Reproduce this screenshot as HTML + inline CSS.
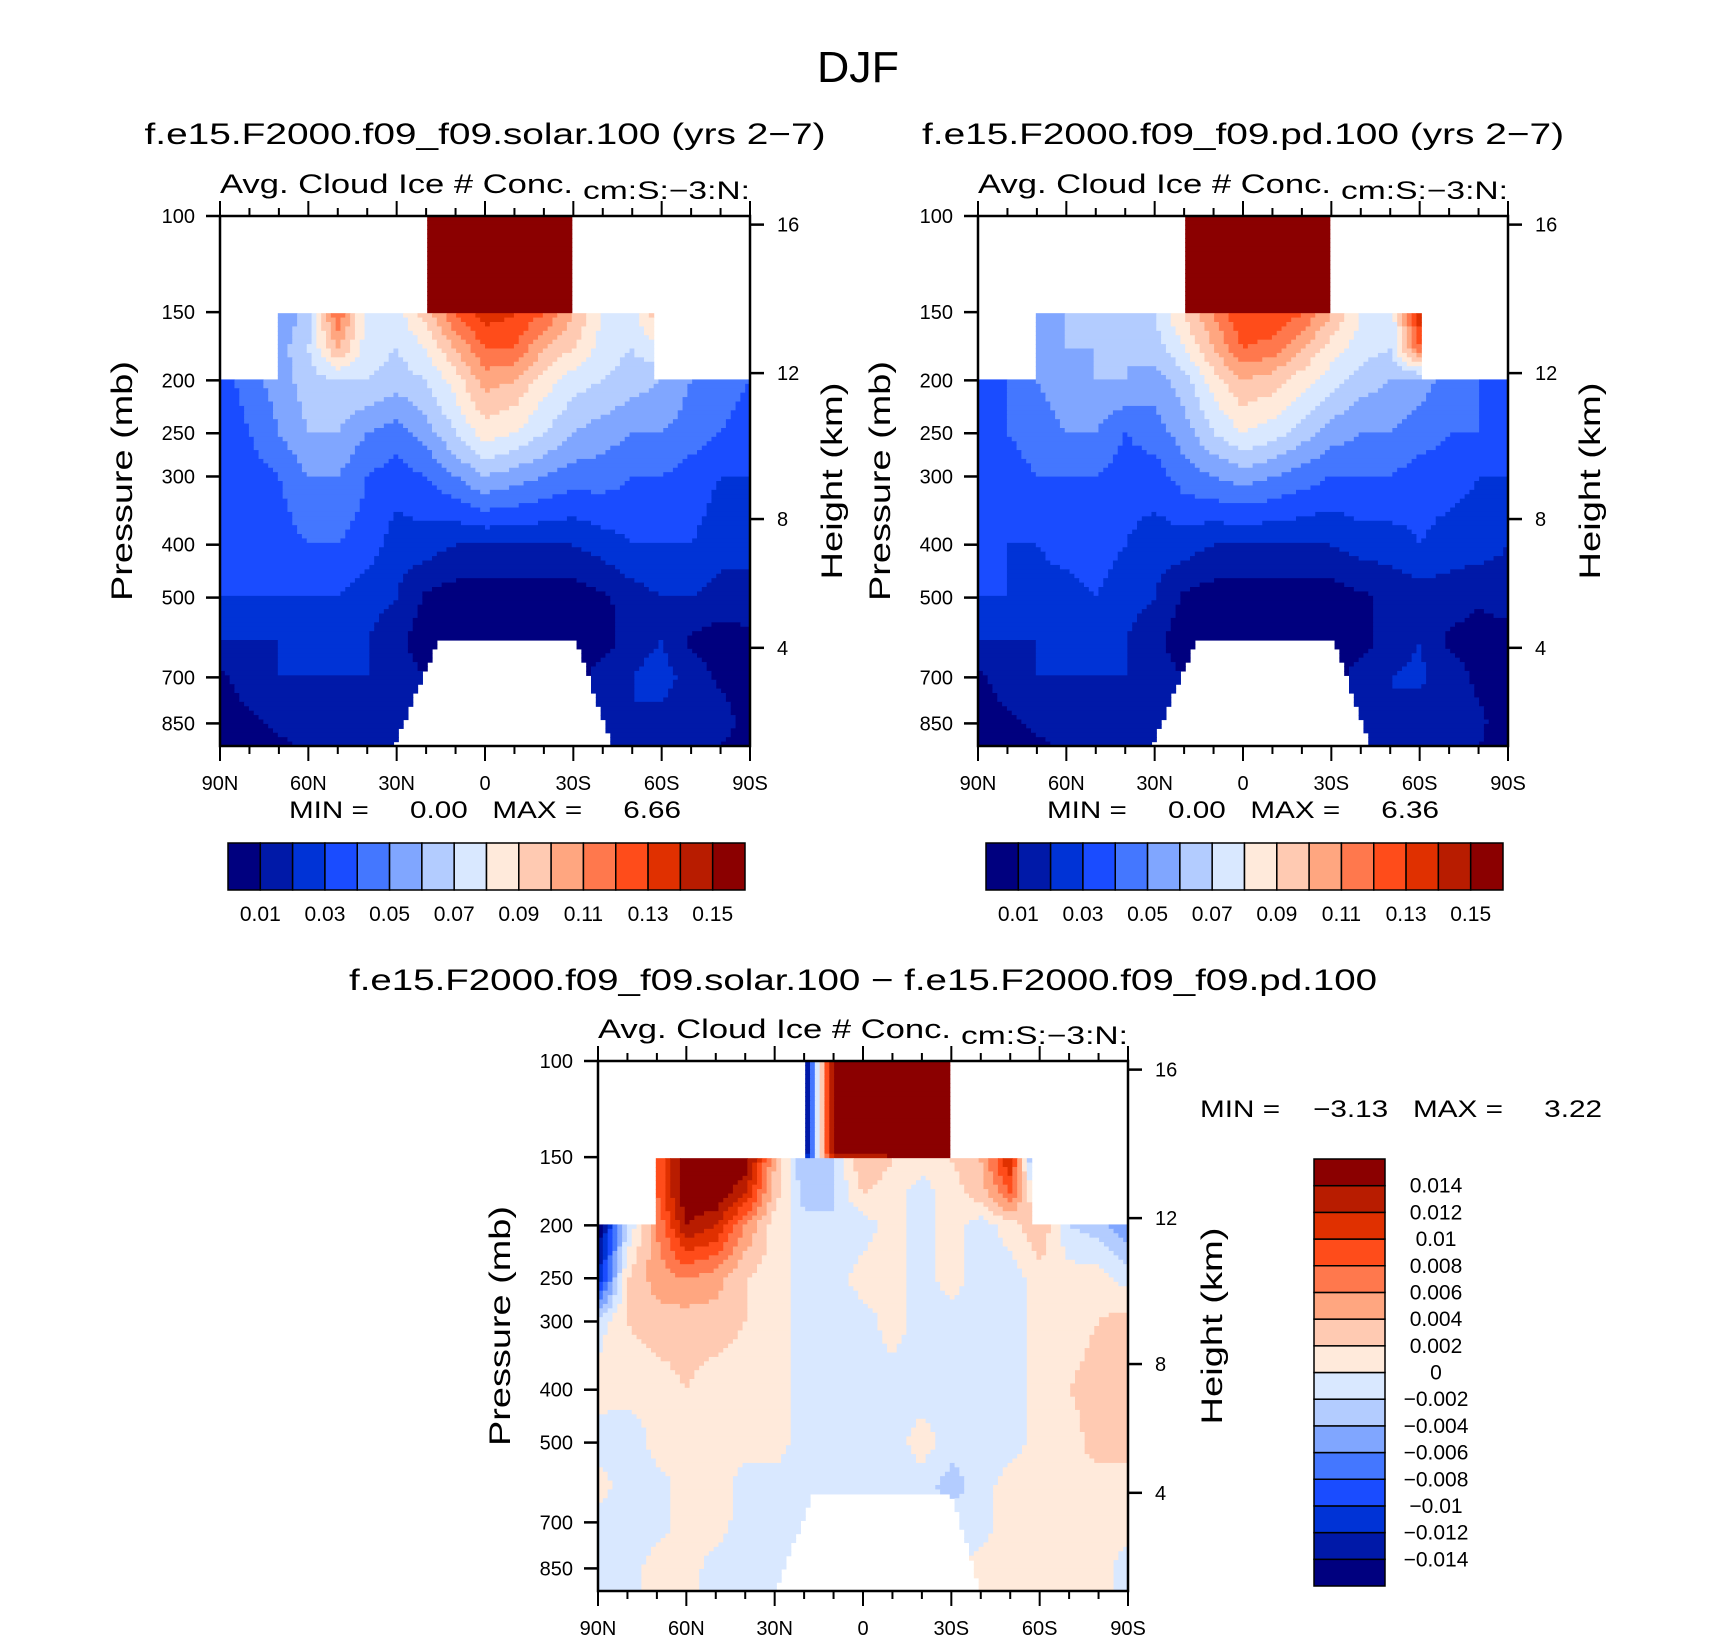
<!DOCTYPE html>
<html><head><meta charset="utf-8">
<style>
html,body{margin:0;padding:0;background:#fff;}
svg{display:block;font-family:"Liberation Sans",sans-serif;}
text{white-space:pre;}
</style></head>
<body>
<svg id="fig" width="1710" height="1639" viewBox="0 0 1710 1639" xmlns="http://www.w3.org/2000/svg">
<rect width="1710" height="1639" fill="#fff"/>
<text x="858" y="82" font-size="44" text-anchor="middle" textLength="82" lengthAdjust="spacingAndGlyphs">DJF</text>
</svg>
<script>
// ---- data ----
const LATS=[90,80,70,60,50,40,30,20,10,0,-10,-20,-30,-40,-50,-60,-70,-80,-90];
const PLEVS=[100,149,151,175,200,250,300,400,500,600,700,850,935];
const TOP_LEVELS=[0.01,0.02,0.03,0.04,0.05,0.06,0.07,0.08,0.09,0.10,0.11,0.12,0.13,0.14,0.15];
const TOP_CB_LABELS=['0.01','0.03','0.05','0.07','0.09','0.11','0.13','0.15'];
const DIFF_CB_LABELS=['0.014','0.012','0.01','0.008','0.006','0.004','0.002','0','\u22120.002','\u22120.004','\u22120.006','\u22120.008','\u22120.01','\u22120.012','\u22120.014'];
const COLORS=['#00007f','#0019a8','#0033d6','#1a4cff','#4477ff','#80a6ff','#b3ccff','#d9e8ff','#ffeadb','#ffcab2','#ffa680','#ff784d','#ff4c1a','#e03000','#b81c00','#8b0000'];
const P_TICKS=[100,150,200,250,300,400,500,700,850];
const H_TICKS=[16,12,8,4];
const H_TICK_P=[103.7,194,359,618];
const LAT_TICKS=[90,60,30,0,-30,-60,-90];
const LAT_LABELS=['90N','60N','30N','0','30S','60S','90S'];

// solar panel
const S_100=[0,0,0,0,0,0,0,0.17,0.17,0.17,0.17,0.17,0.17,0,0,0,0,0,0];
const S_151=[0.04,0.04,0.05,0.065,0.12,0.075,0.075,0.095,0.12,0.135,0.13,0.12,0.10,0.08,0.075,0.10,0.04,0.04,0.04];
const S_175=[0.04,0.04,0.055,0.07,0.10,0.075,0.07,0.08,0.10,0.12,0.12,0.10,0.09,0.075,0.07,0.08,0.05,0.04,0.04];
const S_200=[0.035,0.045,0.055,0.065,0.07,0.07,0.065,0.07,0.085,0.105,0.10,0.085,0.075,0.07,0.065,0.06,0.05,0.045,0.04];
const S_250=[0.03,0.04,0.05,0.06,0.06,0.05,0.045,0.055,0.07,0.085,0.08,0.07,0.06,0.055,0.05,0.05,0.045,0.04,0.035];
const S_300=[0.03,0.035,0.04,0.05,0.05,0.04,0.035,0.04,0.05,0.06,0.055,0.05,0.045,0.045,0.04,0.04,0.035,0.03,0.03];
const S_400=[0.03,0.03,0.035,0.04,0.04,0.035,0.025,0.025,0.02,0.02,0.02,0.02,0.02,0.025,0.03,0.03,0.03,0.025,0.02];
const S_500=[0.03,0.03,0.03,0.03,0.03,0.025,0.02,0.008,0.005,0.005,0.005,0.005,0.005,0.008,0.015,0.02,0.02,0.015,0.02];
const S_600=[0.02,0.02,0.02,0.02,0.02,0.02,0.012,0.005,0.005,0.005,0.005,0.005,0.005,0.005,0.015,0.02,0.008,0.005,0.005];
const S_700=[0.008,0.015,0.02,0.02,0.02,0.02,0.015,0.01,0.005,0.005,0.005,0.005,0.005,0.015,0.02,0.025,0.015,0.008,0.005];
const S_850=[0.005,0.008,0.012,0.015,0.02,0.015,0.012,0.01,0.005,0.005,0.005,0.005,0.005,0.015,0.02,0.015,0.015,0.015,0.005];
const S_935=[0.005,0.005,0.008,0.012,0.015,0.012,0.01,0.01,0.005,0.005,0.005,0.005,0.005,0.012,0.015,0.012,0.012,0.01,0.005];

// pd panel
const D_100=[0,0,0,0,0,0,0,0.17,0.17,0.17,0.17,0.17,0.17,0,0,0,0,0,0];
const D_151=[0.04,0.04,0.05,0.06,0.065,0.06,0.07,0.09,0.11,0.13,0.13,0.12,0.10,0.08,0.07,0.14,0.04,0.04,0.04];
const D_175=[0.04,0.04,0.05,0.06,0.06,0.06,0.065,0.08,0.10,0.12,0.115,0.10,0.085,0.075,0.07,0.12,0.05,0.04,0.04];
const D_200=[0.04,0.04,0.05,0.055,0.06,0.06,0.055,0.065,0.085,0.10,0.095,0.085,0.075,0.065,0.06,0.055,0.045,0.04,0.04];
const D_250=[0.035,0.04,0.045,0.05,0.05,0.04,0.045,0.055,0.07,0.08,0.075,0.065,0.055,0.05,0.05,0.045,0.04,0.04,0.035];
const D_300=[0.03,0.035,0.04,0.04,0.04,0.035,0.035,0.045,0.05,0.055,0.05,0.045,0.04,0.04,0.04,0.035,0.035,0.03,0.03];
const D_400=[0.03,0.03,0.03,0.035,0.035,0.03,0.025,0.025,0.02,0.02,0.02,0.02,0.02,0.025,0.025,0.03,0.025,0.025,0.02];
const D_500=[0.03,0.03,0.025,0.025,0.03,0.025,0.02,0.008,0.005,0.005,0.005,0.005,0.005,0.008,0.012,0.015,0.015,0.012,0.015];
const D_600=[0.02,0.02,0.02,0.02,0.02,0.02,0.012,0.005,0.005,0.005,0.005,0.005,0.005,0.005,0.015,0.02,0.008,0.005,0.005];
const D_700=[0.008,0.015,0.02,0.02,0.02,0.02,0.015,0.01,0.005,0.005,0.005,0.005,0.005,0.015,0.02,0.022,0.015,0.008,0.005];
const D_850=[0.005,0.008,0.012,0.015,0.02,0.015,0.012,0.01,0.005,0.005,0.005,0.005,0.005,0.015,0.02,0.015,0.015,0.012,0.005];
const D_935=[0.005,0.005,0.008,0.012,0.015,0.012,0.01,0.01,0.005,0.005,0.005,0.005,0.005,0.012,0.015,0.012,0.012,0.01,0.005];

// difference panel
const F_100=[0,0,0,0,0,0,0,-0.016,0.016,0.014,0.016,0.016,0.016,0,0,0,0,0,0];
const F_151=[0,0,0.008,0.016,0.016,0.016,0.004,-0.004,-0.002,0.004,0.002,0.001,0.002,0.004,0.012,-0.010,0,0,0];
const F_175=[0,-0.004,0.008,0.016,0.016,0.012,0.003,-0.003,-0.002,0.002,0.001,-0.001,0.001,0.003,0.008,-0.002,0,0,0];
const F_200=[-0.016,-0.002,0.006,0.014,0.012,0.006,0.001,-0.001,-0.002,-0.001,0.001,-0.001,0.001,-0.001,0.001,0.004,-0.002,-0.003,-0.006];
const F_250=[-0.012,0.002,0.005,0.006,0.005,0.002,0.001,-0.001,-0.001,0.001,0.001,-0.001,0.001,-0.001,-0.001,0.001,0.001,0.001,-0.001];
const F_300=[-0.001,0.002,0.003,0.003,0.003,0.002,0.001,-0.001,-0.001,-0.001,0.001,-0.001,-0.001,-0.001,-0.001,0.001,0.001,0.002,0.003];
const F_400=[0.001,0.001,0.001,0.002,0.001,0.001,0.001,-0.001,-0.001,-0.001,-0.001,-0.001,-0.001,-0.001,-0.001,0.001,0.002,0.003,0.003];
const F_500=[-0.001,-0.002,0.001,0.001,0.001,0.001,0.001,-0.001,-0.001,-0.001,-0.001,0.001,-0.001,-0.001,-0.001,0.001,0.001,0.003,0.003];
const F_600=[0.001,-0.001,-0.001,0.001,0.001,-0.001,-0.001,-0.001,-0.001,-0.001,-0.001,-0.001,-0.003,-0.001,0.001,0.001,0.002,0.001,0.001];
const F_700=[-0.001,-0.001,-0.001,0.001,0.001,-0.001,-0.002,-0.001,-0.001,-0.001,-0.001,-0.001,-0.001,-0.001,0.001,0.001,0.001,0.001,0.001];
const F_850=[-0.001,-0.001,0.001,0.001,-0.001,-0.001,-0.001,-0.001,-0.001,-0.001,-0.001,-0.001,-0.001,0.001,0.001,0.001,0.001,0.001,-0.001];
const F_935=[-0.001,-0.001,0.001,0.001,-0.001,-0.001,-0.001,-0.001,-0.001,-0.001,-0.001,-0.001,-0.001,0.001,0.001,0.001,0.001,0.001,-0.001];

const NS='http://www.w3.org/2000/svg';
const svg=document.getElementById('fig');
function el(tag,attrs,parent){const e=document.createElementNS(NS,tag);for(const k in attrs)e.setAttribute(k,attrs[k]);(parent||svg).appendChild(e);return e;}
function txt(s,attrs,parent){const e=el('text',attrs,parent);e.textContent=s;return e;}

const PBOT=935;
function drawPanel(cfg){
  const g=el('g',{});
  
  
  const {x0,y0,w,h}=cfg;
  const k=h/Math.log(PBOT/100);
  const yOf=p=>y0+Math.log(p/100)*k;
  const xOf=lat=>x0+(90-lat)/180*w;
  const lp=PLEVS.map(p=>Math.log(p));
  const nx=110,ny=120,dx=w/nx,dy=h/ny;
  const cells=el('g',{},g);
  
  
  for(let r=0;r<ny;r++){
    const yc=y0+(r+0.5)*dy;
    const p=100*Math.exp((yc-y0)/k);
    const L=Math.log(p);
    let i=0;while(i<lp.length-2&&L>lp[i+1])i++;
    let t=(L-lp[i])/(lp[i+1]-lp[i]);t=Math.max(0,Math.min(1,t));
    let runStart=0,runIdx=null;
    const flush=(end)=>{
      if(runIdx!==null&&runIdx>=0){
        const rc=el('rect',{x:(x0+runStart*dx).toFixed(2),y:(y0+r*dy).toFixed(2),width:((end-runStart)*dx+0.6).toFixed(2),height:(dy+0.6).toFixed(2),fill:COLORS[runIdx]},cells);
        
        
      }
    };
    for(let c=0;c<nx;c++){
      const lat=90-(c+0.5)*dx/w*180;
      let j=Math.min(17,Math.floor((90-lat)/10));const s=((90-lat)-j*10)/10;
      const a=cfg.grid[i],b=cfg.grid[i+1];
      const v=(1-t)*((1-s)*a[j]+s*a[j+1])+t*((1-s)*b[j]+s*b[j+1]);
      let idx=cfg.levelFn(v);
      if(!cfg.mask(lat,p))idx=-1;
      if(idx!==runIdx){flush(c);runStart=c;runIdx=idx;}
    }
    flush(nx);
  }
  const fr=el('rect',{x:x0,y:y0,width:w,height:h,fill:'none',stroke:'#000','stroke-width':2.5},g);
  
  
  P_TICKS.forEach(p=>{
    const y=yOf(p);
    el('line',{x1:x0-14,x2:x0,y1:y,y2:y,stroke:'#000','stroke-width':2.5},g);
    const t=txt(String(p),{x:x0-25,y:y+7,'font-size':20,'text-anchor':'end'},g);
    
    
  });
  H_TICKS.forEach((hk,ii)=>{
    const y=yOf(H_TICK_P[ii]);
    el('line',{x1:x0+w,x2:x0+w+14,y1:y,y2:y,stroke:'#000','stroke-width':2.5},g);
    const t=txt(String(hk),{x:x0+w+27,y:y+7,'font-size':20},g);
    
    
  });
  for(let lat=90;lat>=-90;lat-=10){
    const x=xOf(lat);const major=lat%30===0;const L=major?15:8;
    el('line',{x1:x,x2:x,y1:y0-L,y2:y0,stroke:'#000','stroke-width':2},g);
    el('line',{x1:x,x2:x,y1:y0+h,y2:y0+h+L,stroke:'#000','stroke-width':2},g);
  }
  LAT_TICKS.forEach((lat,ii)=>{
    const t=txt(LAT_LABELS[ii],{x:xOf(lat),y:y0+h+44,'font-size':20,'text-anchor':'middle'},g);
    
    
  });
  const a=txt('Avg. Cloud Ice # Conc.',{x:x0,y:y0-23,'font-size':27,textLength:353,lengthAdjust:'spacingAndGlyphs'},g);
  
  
  const u=txt('cm:S:\u22123:N:',{x:x0+w,y:y0-17,'font-size':25,'text-anchor':'end',textLength:167,lengthAdjust:'spacingAndGlyphs'},g);
  
  
  const yp=txt('Pressure (mb)',{x:0,y:0,'font-size':30,'text-anchor':'middle',textLength:240,lengthAdjust:'spacingAndGlyphs',transform:`translate(${cfg.pTitleX},${y0+h/2}) rotate(-90)`},g);
  
  
  const yh=txt('Height (km)',{x:0,y:0,'font-size':30,'text-anchor':'middle',textLength:197,lengthAdjust:'spacingAndGlyphs',transform:`translate(${cfg.hTitleX},${y0+h/2}) rotate(-90)`},g);
  
  
  const st=txt(cfg.title,{x:x0+w/2,y:cfg.titleY,'font-size':30,'text-anchor':'middle',textLength:cfg.titleLen,lengthAdjust:'spacingAndGlyphs'},g);
  
  
}
const topLevel=v=>{let i=Math.floor(v/0.01+1e-9);return Math.max(0,Math.min(15,i));};
const diffLevel=v=>{let i=Math.floor((v+0.016)/0.002+1e-9);return Math.max(0,Math.min(15,i));};
function topMask(hn,hs,pS,hsB){
  return (lat,p)=>{
    if(p<150)return lat<=20&&lat>=-30;
    if(p<200)return lat<=71&&lat>=-hs;
    if(p>=pS){const f=Math.log(p/pS)/Math.log(PBOT/pS);const n=hn[0]+(hn[1]-hn[0])*f,s=hsB[0]+(hsB[1]-hsB[0])*f;if(lat<=n&&lat>=-s)return false;}
    return true;
  };
}
drawPanel({name:'solar-panel',x0:220,y0:216,w:530,h:530,title:'f.e15.F2000.f09_f09.solar.100 (yrs 2\u22127)',titleY:144,titleLen:681,pTitleX:132,hTitleX:842,
  grid:[S_100,S_100,S_151,S_175,S_200,S_250,S_300,S_400,S_500,S_600,S_700,S_850,S_935],levelFn:topLevel,
  mask:topMask([16,31],57,600,[31,43])});
drawPanel({name:'pd-panel',x0:978,y0:216,w:530,h:530,title:'f.e15.F2000.f09_f09.pd.100 (yrs 2\u22127)',titleY:144,titleLen:642,pTitleX:890,hTitleX:1600,
  grid:[D_100,D_100,D_151,D_175,D_200,D_250,D_300,D_400,D_500,D_600,D_700,D_850,D_935],levelFn:topLevel,
  mask:topMask([16,31],60,600,[31,43])});
drawPanel({name:'difference-panel',x0:598,y0:1061,w:530,h:530,title:'f.e15.F2000.f09_f09.solar.100 \u2212 f.e15.F2000.f09_f09.pd.100',titleY:990,titleLen:1028,pTitleX:510,hTitleX:1222,
  grid:[F_100,F_100,F_151,F_175,F_200,F_250,F_300,F_400,F_500,F_600,F_700,F_850,F_935],levelFn:diffLevel,
  mask:topMask([17,30],58,620,[30,40])});

function hColorbar(x,y,w,h,name){
  const g=el('g',{});
  
  
  const bw=w/COLORS.length;
  COLORS.forEach((c,i)=>{
    const r=el('rect',{x:x+i*bw,y:y,width:bw,height:h,fill:c,stroke:'#000','stroke-width':1.5},g);
    
    
  });
  TOP_CB_LABELS.forEach((s,i)=>{
    const t=txt(s,{x:x+(1+2*i)*bw,y:y+h+31,'font-size':21,'text-anchor':'middle'},g);
    
    
  });
}
hColorbar(228,843,517,47,'solar-colorbar');
hColorbar(986,843,517,47,'pd-colorbar');
(function(){
  const x=1314,y=1159,w=71,h=427;
  const g=el('g',{});
  
  
  const bh=h/COLORS.length;
  COLORS.forEach((c,i)=>{
    const r=el('rect',{x:x,y:y+h-(i+1)*bh,width:w,height:bh,fill:c,stroke:'#000','stroke-width':1.5},g);
    
    
  });
  DIFF_CB_LABELS.forEach((s,i)=>{
    const t=txt(s,{x:1436,y:y+(i+1)*bh+7,'font-size':21,'text-anchor':'middle'},g);
    
    
  });
})();
const m1=txt('MIN =     0.00   MAX =     6.66',{x:485,y:818,'font-size':24,'text-anchor':'middle',textLength:392,lengthAdjust:'spacingAndGlyphs'});


const m2=txt('MIN =     0.00   MAX =     6.36',{x:1243,y:818,'font-size':24,'text-anchor':'middle',textLength:392,lengthAdjust:'spacingAndGlyphs'});


const m3=txt('MIN =    \u22123.13   MAX =     3.22',{x:1401,y:1117,'font-size':24,'text-anchor':'middle',textLength:402,lengthAdjust:'spacingAndGlyphs'});


</script>
</body></html>
